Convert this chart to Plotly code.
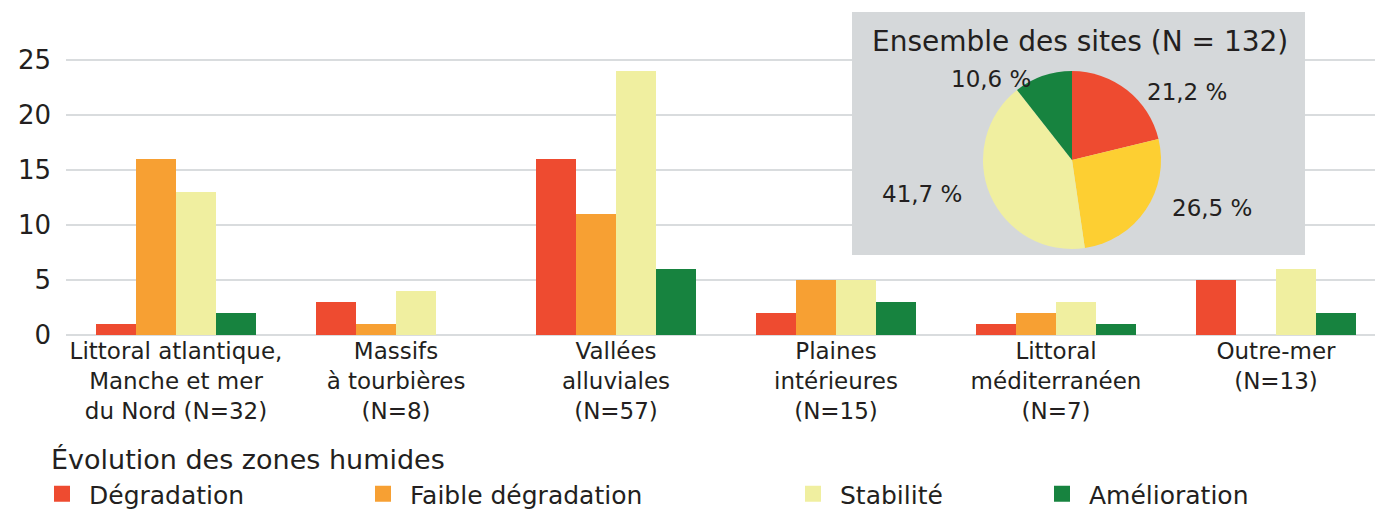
import math
import plotly.graph_objects as go

categories = ["Littoral atlantique,<br>Manche et mer<br>du Nord (N=32)",
              "Massifs<br>à tourbières<br>(N=8)",
              "Vallées<br>alluviales<br>(N=57)",
              "Plaines<br>intérieures<br>(N=15)",
              "Littoral<br>méditerranéen<br>(N=7)",
              "Outre-mer<br>(N=13)"]
series_names = ["Dégradation", "Faible dégradation", "Stabilité", "Amélioration"]
degradation = [1, 3, 16, 2, 1, 5]
faible_degradation = [16, 1, 11, 5, 2, 0]
stabilite = [13, 4, 24, 5, 3, 6]
amelioration = [2, 0, 6, 3, 1, 2]
bar_colors = ["#EE4B30", "#F7A033", "#F0EFA0", "#17833F"]

pie_labels = series_names
pie_pct = [21.2, 26.5, 41.7, 10.6]
pie_colors = ["#EE4B30", "#FDCF32", "#F0EFA0", "#17833F"]
pie_title = "Ensemble des sites (N = 132)"
legend_title = "Évolution des zones humides"
y_ticks = [0, 5, 10, 15, 20, 25]

FONT = "DejaVu Sans"
TXT = "#231F20"
OFF = 8  # page body margin
PAGE_W, PAGE_H = 1383, 511
W, H = PAGE_W - OFF, PAGE_H - OFF
PLOT_L, PLOT_T, PLOT_B = 66, 12, 335  # page pixels
ML, MR, MT = PLOT_L - OFF, 0, PLOT_T - OFF
MB = H - (PLOT_B - OFF)
PW = W - ML - MR
PH = H - MT - MB
px_per_unit = 11.0
ymax = PH / px_per_unit
xmin, xmax = -0.5, -0.5 + PW / 220.0

def px_to_paper_x(p):
    return (p - PLOT_L) / PW

def px_to_paper_y(p):
    return (PLOT_B - p) / PH

fig = go.Figure()
xs = list(range(len(categories)))
for name, vals, col in zip(series_names,
                           [degradation, faible_degradation, stabilite, amelioration],
                           bar_colors):
    fig.add_trace(go.Bar(x=xs, y=vals, name=name, marker_color=col,
                         marker_line_width=0, showlegend=False))

# legend proxies
legend_ids = ["legend", "legend2", "legend3", "legend4"]
legend_px = [35, 356, 786, 1035]
for name, col, lid in zip(series_names, bar_colors, legend_ids):
    fig.add_trace(go.Scatter(x=[None], y=[None], mode="markers", name=name,
                             marker=dict(symbol="square", size=18, color=col),
                             legend=lid, showlegend=True))

# pie
cx, cy = 1072, 160
r_vis = 89
pie_text = [f"{v:.1f} %".replace(".", ",") for v in pie_pct]
fig.add_trace(go.Pie(labels=pie_labels, values=pie_pct, text=pie_text,
                     textinfo="none",
                     marker=dict(colors=pie_colors, line=dict(width=0)),
                     sort=False, direction="clockwise", rotation=0,
                     showlegend=False, hoverinfo="label+text",
                     domain=dict(x=[px_to_paper_x(cx - r_vis), px_to_paper_x(cx + r_vis)],
                                 y=[px_to_paper_y(cy + r_vis), px_to_paper_y(cy - r_vis)])))

# pie labels placed around the slices' mid angles
a_lab, b_lab = 118, 86
cum = 0.0
for v, t in zip(pie_pct, pie_text):
    th = 2 * math.pi * (cum + v / 2) / sum(pie_pct)
    cum += v
    lx = cx + a_lab * math.sin(th)
    ly = cy - b_lab * math.cos(th)
    fig.add_annotation(text=t, xref="paper", yref="paper",
                       x=px_to_paper_x(lx), y=px_to_paper_y(ly),
                       xanchor="left" if math.sin(th) > 0 else "right",
                       yanchor="middle", showarrow=False,
                       font=dict(family=FONT, size=23, color=TXT))

# gray box
fig.add_shape(type="rect", xref="x", yref="y",
              x0=xmin + (852 - PLOT_L) / 220.0, x1=xmin + (1305 - PLOT_L) / 220.0,
              y0=(PLOT_B - 255) / px_per_unit, y1=(PLOT_B - 12) / px_per_unit,
              fillcolor="#D5D8DA", line_width=0, layer="between")

fig.add_annotation(text=pie_title, xref="paper", yref="paper",
                   x=px_to_paper_x(1080), y=px_to_paper_y(42),
                   xanchor="center", yanchor="middle", showarrow=False,
                   font=dict(family=FONT, size=28, color=TXT))
fig.add_annotation(text=legend_title, xref="paper", yref="paper",
                   x=px_to_paper_x(49), y=px_to_paper_y(459),
                   xanchor="left", yanchor="middle", showarrow=False,
                   font=dict(family=FONT, size=27, color=TXT))

legend_common = dict(orientation="h", yanchor="middle", xanchor="left",
                     y=px_to_paper_y(494), bgcolor="rgba(0,0,0,0)",
                     itemwidth=44, borderwidth=0,
                     font=dict(family=FONT, size=25, color=TXT))
layout_legends = {}
for lid, lx in zip(legend_ids, legend_px):
    layout_legends[lid] = dict(x=px_to_paper_x(lx), **legend_common)

fig.update_layout(
    width=W, height=H,
    margin=dict(l=ML, r=MR, t=MT, b=MB, autoexpand=False),
    paper_bgcolor="white", plot_bgcolor="white",
    barmode="group", bargap=60 / 220, bargroupgap=0,
    font=dict(family=FONT, size=22, color=TXT),
    xaxis=dict(tickvals=xs, ticktext=categories, range=[xmin, xmax],
               showgrid=False, zeroline=False, showline=False, ticks="",
               tickfont=dict(family=FONT, size=23, color=TXT)),
    yaxis=dict(range=[0, ymax], tickvals=y_ticks, showgrid=True,
               gridcolor="#D9DCDE", gridwidth=1.5, zeroline=True,
               zerolinecolor="#D9DCDE", zerolinewidth=1.5, showline=False,
               ticks="", ticklabelstandoff=14,
               tickfont=dict(family=FONT, size=26, color=TXT)),
    **layout_legends,
)

fig.write_html("out.html")
